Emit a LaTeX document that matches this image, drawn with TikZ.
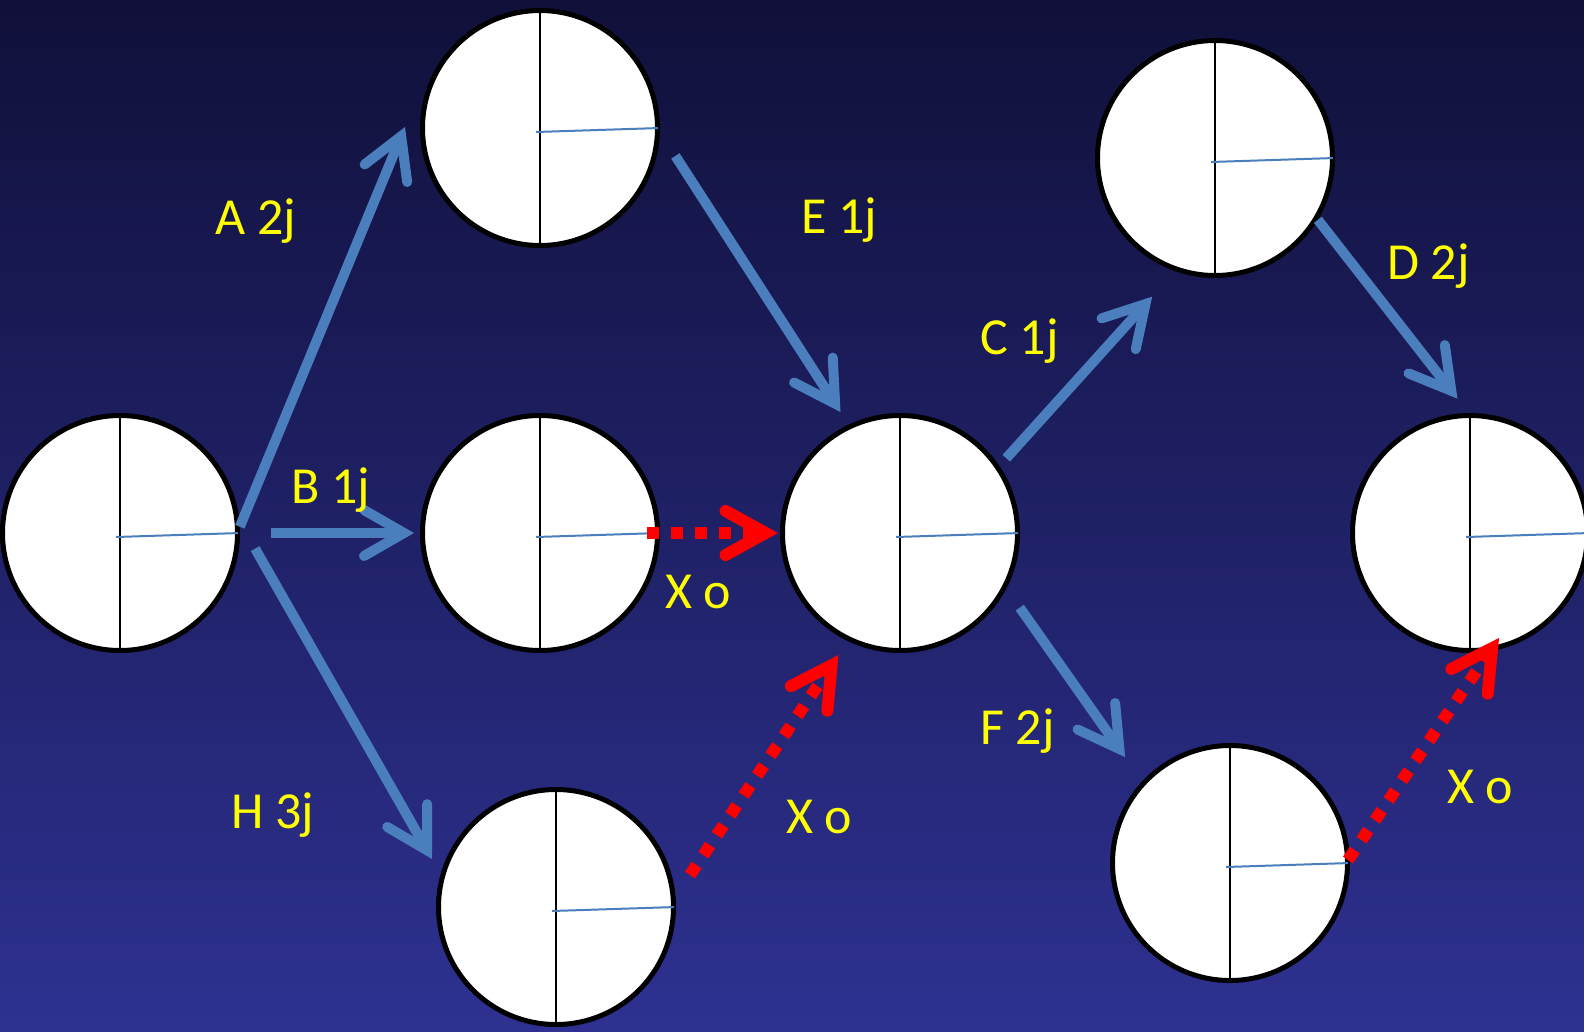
\documentclass[tikz,border=0pt]{standalone}
\usepackage{fontspec}
\setmainfont{Carlito}
\usetikzlibrary{arrows.meta,decorations.markings}

\definecolor{bgtop}{RGB}{16,16,58}
\definecolor{bgmid}{RGB}{34,36,112}
\definecolor{bgbot}{RGB}{46,49,145}
\definecolor{taskblue}{RGB}{74,126,188}
\definecolor{lblyellow}{RGB}{255,255,0}

\begin{document}
\begin{tikzpicture}[x=1pt, y=-1pt,
    event/.style={circle, draw=black, line width=5pt, fill=white, minimum size=235pt, inner sep=0pt},
    task/.style={draw=taskblue, line width=10pt, -{Straight Barb[length=40pt,width=46pt,line cap=round,line join=miter]}},
    dummy/.style={draw=red, line width=12pt, dash pattern=on 12pt off 12pt, shorten >=14pt, postaction={decorate},
        decoration={markings, mark=at position 1 with {\arrow{Straight Barb[length=40pt,width=44pt,line cap=round,line join=miter]}}}},
    lbl/.style={text=lblyellow, font=\fontsize{52}{60}\selectfont, anchor=base west, inner sep=0pt}]
    \useasboundingbox (0,0) rectangle (1584,1031);
    % Background
    \shade[top color=bgtop, middle color=bgmid, bottom color=bgbot] (0,0) rectangle (1584,1031);

    % Draw events
    \node[event] (start) at (120,533) {};
    \node[event] (evA) at (540,128) {};
    \node[event] (evB) at (540,533) {};
    \node[event] (evH) at (556,907) {};
    \node[event] (evE) at (900,533) {};
    \node[event] (evC) at (1215,158) {};
    \node[event] (evF) at (1230,863) {};
    \node[event] (fin) at (1470,533) {};

    % Split each event
    \foreach \n in {start,evA,evB,evH,evE,evC,evF,fin} {
        \draw[line width=1.8pt] (\n.north) -- (\n.south);
        \draw[taskblue, line width=2pt, shorten >=2pt] (\n.center) ++(-4,4) -- (\n.east);
    }

    % Draw tasks
    \draw[task] (start.3) -- ([shift={(-15,-1)}]evA.west);
    \draw[task] ([shift={(31,0)}]start.east) -- ([shift={(-6,0)}]evB.west);
    \draw[task] ([shift={(16,1)}]start.-7) -- ([shift={(-12,-5)}]evH.159);
    \draw[task] ([shift={(18,3)}]evA.-12) -- ([shift={(-5,-14)}]evE.117);
    \draw[task] ([shift={(8,-6)}]evE.35) -- ([shift={(-14,29)}]evC.246);
    \draw[task] (evC.-31) -- ([shift={(0,-15)}]fin.96);
    \draw[task] ([shift={(18,11)}]evE.-32) -- ([shift={(-20,-21)}]evF.135);

    % Draw dummy tasks
    \draw[dummy] ([shift={(-13,0)}]evB.east) -- ([shift={(-2,0)}]evE.west);
    \draw[dummy] ([shift={(17,-5)}]evH.13) -- ([shift={(-7,15)}]evE.243);
    \draw[dummy] ([shift={(-2,-3)}]evF.east) -- ([shift={(-2,-11)}]fin.-75);

    % Labels
    \node[lbl] (lblA) at (215,234) {A 2j};
    \node[lbl] (lblB) at (291,503) {B 1j};
    \node[lbl] (lblH) at (231,828) {H 3j};
    \node[lbl] (lblE) at (801,233) {E 1j};
    \node[lbl] (lblC) at (980,354) {C 1j};
    \node[lbl] (lblD) at (1387,279) {D 2j};
    \node[lbl] (lblF) at (980,744) {F 2j};
    \node[lbl] (lblX1) at (665,608) {X o};
    \node[lbl] (lblX2) at (786,833) {X o};
    \node[lbl] (lblX3) at (1447,803) {X o};
\end{tikzpicture}
\end{document}
